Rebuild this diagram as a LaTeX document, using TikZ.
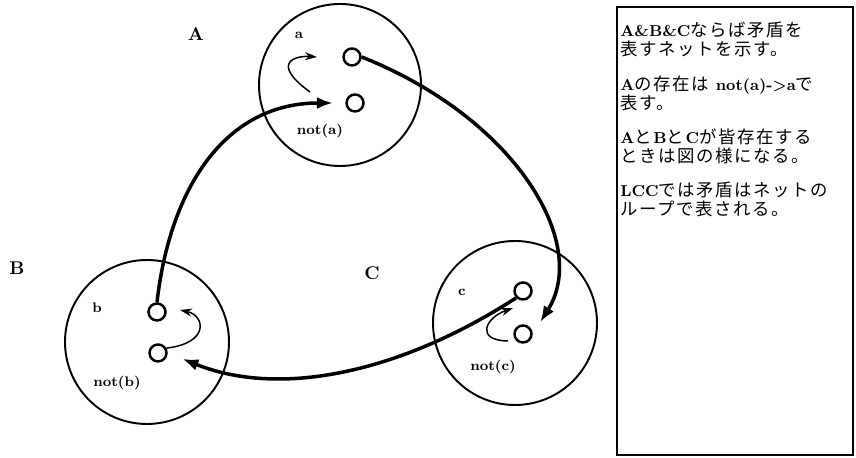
\documentclass[tikz,border=0pt]{standalone}
\usepackage{fontspec}
\newfontfamily\cjk[Scale=1.1, LetterSpace=9]{Noto Sans CJK JP}
\newcommand{\jp}[1]{{\cjk\mdseries #1}}
\usetikzlibrary{arrows.meta}

\begin{document}
\begin{tikzpicture}[
  every node/.style={font=\fontsize{7.9}{9}\selectfont\bfseries},
  port/.style={circle, draw, line width=1.4pt, minimum size=0.34cm, inner sep=0pt},
  loopline/.style={line width=2pt, -{Latex[length=0.32cm, width=0.24cm]}},
  selfline/.style={line width=0.85pt, -{Stealth[length=0.24cm, width=0.16cm]}}
]
  \useasboundingbox (0,0) rectangle (17.12,9.16);

  % propositions A, B, C
  \draw[line width=1.1pt] (6.80,7.46) circle (1.62);
  \draw[line width=1.1pt] (2.94,2.32) circle (1.64);
  \draw[line width=1.1pt] (10.30,2.70) circle (1.64);
  \node (labA) at (3.92,8.48) {\fontsize{10.5}{12}\selectfont A};
  \node (labB) at (0.34,3.80) {\fontsize{10.5}{12}\selectfont B};
  \node (labC) at (7.44,3.70) {\fontsize{10.5}{12}\selectfont C};

  % ports
  \node[port] (a) at (7.04,8.02) {};
  \node[port] (nota) at (7.10,7.10) {};
  \node[port] (b) at (3.14,2.92) {};
  \node[port] (notb) at (3.16,2.10) {};
  \node[port] (c) at (10.46,3.34) {};
  \node[port] (notc) at (10.46,2.48) {};
  \node (la) at (5.98,8.46) {a};
  \node (lnota) at (6.40,6.54) {not(a)};
  \node (lb) at (1.94,3.00) {b};
  \node (lnotb) at (2.34,1.50) {not(b)};
  \node (lc) at (9.24,3.32) {c};
  \node (lnotc) at (9.86,1.82) {not(c)};

  % not(x) -> x inside each circle
  \coordinate (fromA) at (6.20,7.32);
  \coordinate (toA) at (6.34,8.02);
  \draw[selfline] (fromA) .. controls (5.4,7.9) and (5.9,8.05) .. (toA);
  \coordinate (toB) at (3.60,2.96);
  \draw[selfline] (notb.30) .. controls (4.2,2.3) and (4.1,2.85) .. (toB);
  \coordinate (fromC) at (10.16,2.34);
  \coordinate (toC) at (10.26,3.00);
  \draw[selfline] (fromC) .. controls (9.5,2.35) and (9.7,2.8) .. (toC);

  % the loop
  \draw[loopline, shorten >=7pt] (b.north) .. controls (3.4,5.4) and (4.5,7.1) .. (nota.west);
  \draw[loopline, shorten >=8pt] (a.east) .. controls (10.3,6.8) and (11.8,4.3) .. (notc.east);
  \draw[loopline, shorten >=9pt] (c.south west) .. controls (8.0,1.7) and (5.6,1.2) .. (notb.east);

  % memo
  \draw[line width=0.8pt] (12.34,0.06) rectangle (17.06,9.02);
  \node[anchor=north west, align=left, inner sep=0pt, font=\fontsize{9}{10.8}\selectfont] (memo) at (12.40,8.72) {%
    \textbf{A\&B\&C}\jp{ならば矛盾を}\\
    \jp{表すネットを示す。}\\[0.306cm]
    \textbf{A}\jp{の存在は} \textbf{not(a)->a}\jp{で}\\
    \jp{表す。}\\[0.306cm]
    \textbf{A}\jp{と}\textbf{B}\jp{と}\textbf{C}\jp{が皆存在する}\\
    \jp{ときは図の様になる。}\\[0.306cm]
    \textbf{LCC}\jp{では矛盾はネットの}\\
    \jp{ループで表される。}};
\end{tikzpicture}
\end{document}
